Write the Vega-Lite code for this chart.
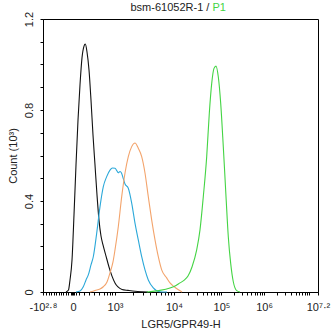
{
  "$schema": "https://vega.github.io/schema/vega-lite/v6.json",
  "width": 275,
  "height": 273,
  "autosize": {"type": "none"},
  "padding": {"left": 43, "top": 19, "right": 14, "bottom": 43},
  "background": "white",
  "config": {
    "view": {"stroke": "black", "strokeWidth": 1},
    "font": "Liberation Sans",
    "axis": {"grid": false, "domainColor": "black", "tickColor": "black", "labelColor": "#222", "titleColor": "#222", "labelFontSize": 11, "titleFontSize": 11, "titleFontWeight": "normal", "tickSize": 3}
  },
  "datasets": {
    "curves": [
      {"s": "a", "ch": 83.6, "count": 0}, {"s": "a", "ch": 92.7, "count": 0.009}, {"s": "a", "ch": 98.2, "count": 0.053}, {"s": "a", "ch": 105.5, "count": 0.141}, {"s": "a", "ch": 112.7, "count": 0.338}, {"s": "a", "ch": 120.0, "count": 0.558}, {"s": "a", "ch": 127.3, "count": 0.756}, {"s": "a", "ch": 134.5, "count": 0.91}, {"s": "a", "ch": 141.8, "count": 1.029}, {"s": "a", "ch": 149.1, "count": 1.081}, {"s": "a", "ch": 153.8, "count": 1.09}, {"s": "a", "ch": 160.0, "count": 1.055}, {"s": "a", "ch": 167.3, "count": 0.976}, {"s": "a", "ch": 174.5, "count": 0.844}, {"s": "a", "ch": 181.8, "count": 0.69}, {"s": "a", "ch": 189.1, "count": 0.558}, {"s": "a", "ch": 196.4, "count": 0.426}, {"s": "a", "ch": 203.6, "count": 0.316}, {"s": "a", "ch": 210.9, "count": 0.246}, {"s": "a", "ch": 218.2, "count": 0.207}, {"s": "a", "ch": 229.1, "count": 0.158}, {"s": "a", "ch": 240.0, "count": 0.11}, {"s": "a", "ch": 250.9, "count": 0.07}, {"s": "a", "ch": 261.8, "count": 0.04}, {"s": "a", "ch": 272.7, "count": 0.022}, {"s": "a", "ch": 287.3, "count": 0.011}, {"s": "a", "ch": 309.1, "count": 0.007}, {"s": "a", "ch": 334.5, "count": 0.003}, {"s": "a", "ch": 360.0, "count": 0.001}, {"s": "a", "ch": 381.8, "count": 0},
      {"s": "b", "ch": 120.0, "count": 0}, {"s": "b", "ch": 134.5, "count": 0.004}, {"s": "b", "ch": 146.5, "count": 0.023}, {"s": "b", "ch": 156.4, "count": 0.053}, {"s": "b", "ch": 164.7, "count": 0.075}, {"s": "b", "ch": 174.5, "count": 0.119}, {"s": "b", "ch": 182.9, "count": 0.155}, {"s": "b", "ch": 195.3, "count": 0.259}, {"s": "b", "ch": 207.3, "count": 0.375}, {"s": "b", "ch": 219.3, "count": 0.463}, {"s": "b", "ch": 231.6, "count": 0.507}, {"s": "b", "ch": 243.6, "count": 0.536}, {"s": "b", "ch": 252.7, "count": 0.545}, {"s": "b", "ch": 261.8, "count": 0.544}, {"s": "b", "ch": 269.1, "count": 0.532}, {"s": "b", "ch": 273.8, "count": 0.524}, {"s": "b", "ch": 280.0, "count": 0.53}, {"s": "b", "ch": 285.4, "count": 0.523}, {"s": "b", "ch": 289.8, "count": 0.507}, {"s": "b", "ch": 298.2, "count": 0.475}, {"s": "b", "ch": 310.2, "count": 0.456}, {"s": "b", "ch": 322.5, "count": 0.391}, {"s": "b", "ch": 334.5, "count": 0.303}, {"s": "b", "ch": 346.5, "count": 0.229}, {"s": "b", "ch": 358.9, "count": 0.155}, {"s": "b", "ch": 370.9, "count": 0.097}, {"s": "b", "ch": 382.9, "count": 0.053}, {"s": "b", "ch": 401.1, "count": 0.018}, {"s": "b", "ch": 425.4, "count": 0.001}, {"s": "b", "ch": 450.9, "count": 0},
      {"s": "c", "ch": 170.9, "count": 0}, {"s": "c", "ch": 189.1, "count": 0.007}, {"s": "c", "ch": 207.3, "count": 0.013}, {"s": "c", "ch": 219.3, "count": 0.023}, {"s": "c", "ch": 232.7, "count": 0.044}, {"s": "c", "ch": 243.6, "count": 0.084}, {"s": "c", "ch": 254.5, "count": 0.132}, {"s": "c", "ch": 261.8, "count": 0.185}, {"s": "c", "ch": 273.8, "count": 0.287}, {"s": "c", "ch": 286.2, "count": 0.419}, {"s": "c", "ch": 298.2, "count": 0.523}, {"s": "c", "ch": 310.2, "count": 0.595}, {"s": "c", "ch": 322.5, "count": 0.639}, {"s": "c", "ch": 334.5, "count": 0.655}, {"s": "c", "ch": 346.5, "count": 0.632}, {"s": "c", "ch": 358.9, "count": 0.595}, {"s": "c", "ch": 370.9, "count": 0.523}, {"s": "c", "ch": 382.9, "count": 0.419}, {"s": "c", "ch": 395.3, "count": 0.316}, {"s": "c", "ch": 407.3, "count": 0.229}, {"s": "c", "ch": 419.3, "count": 0.155}, {"s": "c", "ch": 431.6, "count": 0.097}, {"s": "c", "ch": 449.8, "count": 0.062}, {"s": "c", "ch": 461.8, "count": 0.04}, {"s": "c", "ch": 476.4, "count": 0.024}, {"s": "c", "ch": 490.9, "count": 0.011}, {"s": "c", "ch": 505.5, "count": 0},
      {"s": "d", "ch": 377.1, "count": 0}, {"s": "d", "ch": 425.4, "count": 0.007}, {"s": "d", "ch": 461.8, "count": 0.018}, {"s": "d", "ch": 483.6, "count": 0.029}, {"s": "d", "ch": 498.2, "count": 0.04}, {"s": "d", "ch": 512.7, "count": 0.051}, {"s": "d", "ch": 527.3, "count": 0.07}, {"s": "d", "ch": 541.8, "count": 0.11}, {"s": "d", "ch": 558.9, "count": 0.185}, {"s": "d", "ch": 570.9, "count": 0.273}, {"s": "d", "ch": 582.9, "count": 0.419}, {"s": "d", "ch": 595.3, "count": 0.595}, {"s": "d", "ch": 604.7, "count": 0.785}, {"s": "d", "ch": 613.5, "count": 0.917}, {"s": "d", "ch": 621.8, "count": 0.983}, {"s": "d", "ch": 629.1, "count": 0.993}, {"s": "d", "ch": 637.4, "count": 0.946}, {"s": "d", "ch": 646.2, "count": 0.829}, {"s": "d", "ch": 655.6, "count": 0.639}, {"s": "d", "ch": 665.5, "count": 0.419}, {"s": "d", "ch": 673.8, "count": 0.243}, {"s": "d", "ch": 682.5, "count": 0.126}, {"s": "d", "ch": 692.0, "count": 0.045}, {"s": "d", "ch": 704.3, "count": 0.006}, {"s": "d", "ch": 716.4, "count": 0}
    ],
    "heading": [{"part": "run"}]
  },
  "layer": [
    {
      "data": {"name": "curves"},
      "mark": {"type": "line", "strokeWidth": 1.1, "interpolate": "monotone"},
      "encoding": {
        "x": {
          "field": "ch", "type": "quantitative",
          "scale": {"domain": [0, 1000], "nice": false, "zero": false},
          "axis": {
            "title": "LGR5/GPR49-H",
            "values": [0, 10.9, 20, 29.1, 38.2, 47.3, 56.4, 65.5, 74.5, 83.6, 92.7, 100, 105.5, 109, 114.5, 120, 130.9, 149.1, 167.3, 185.5, 203.6, 221.8, 232.7, 243.6, 252.7, 262, 326.5, 364.4, 390.9, 411.6, 428.7, 443.3, 455.6, 466.5, 476, 528.4, 558.9, 580.4, 597.1, 610.9, 622.2, 632.4, 641.1, 649, 695.6, 722.9, 742.2, 757.1, 769.5, 779.6, 788.7, 796.4, 804, 852.7, 881.8, 902.2, 918.2, 930.9, 941.8, 951.3, 960, 967.3, 1000],
            "labelExpr": "datum.value == 0 ? '-10²·⁸' : datum.value == 109 ? '0' : datum.value == 262 ? '10³' : datum.value == 476 ? '10⁴' : datum.value == 649 ? '10⁵' : datum.value == 804 ? '10⁶' : datum.value == 1000 ? '10⁷·²' : ''",
            "labelPadding": 6,
            "labelOverlap": false,
            "labelFlush": false,
            "labelBound": false,
            "titlePadding": 6
          }
        },
        "y": {
          "field": "count", "type": "quantitative",
          "scale": {"domain": [0, 1.2], "nice": false},
          "axis": {
            "title": "Count (10³)",
            "values": [0, 0.1, 0.2, 0.3, 0.4, 0.5, 0.6, 0.7, 0.8, 0.9, 1.0, 1.1, 1.2],
            "labelExpr": "(datum.value == 0 || datum.value == 0.4 || datum.value == 0.8 || datum.value == 1.2) ? ('' + datum.value) : ''",
            "labelAngle": 270,
            "labelAlign": "center",
            "labelBaseline": "bottom",
            "labelPadding": 6,
            "labelOverlap": false,
            "labelFlush": false,
            "titlePadding": 5
          }
        },
        "color": {
          "field": "s", "type": "nominal", "legend": null,
          "scale": {"domain": ["a", "b", "c", "d"], "range": ["#111111", "#2BA8D9", "#F3A46C", "#44D444"]}
        }
      }
    },
    {
      "data": {"name": "heading"},
      "mark": {"type": "text", "align": "right", "baseline": "middle", "fontSize": 11, "color": "#222", "text": "bsm-61052R-1 /", "x": {"expr": "scale('x', 605)"}, "y": {"expr": "scale('y', 1.248)"}},
      "encoding": {}
    },
    {
      "data": {"name": "heading"},
      "mark": {"type": "text", "align": "left", "baseline": "middle", "fontSize": 11, "color": "#44D444", "text": "P1", "x": {"expr": "scale('x', 616)"}, "y": {"expr": "scale('y', 1.248)"}},
      "encoding": {}
    }
  ]
}
